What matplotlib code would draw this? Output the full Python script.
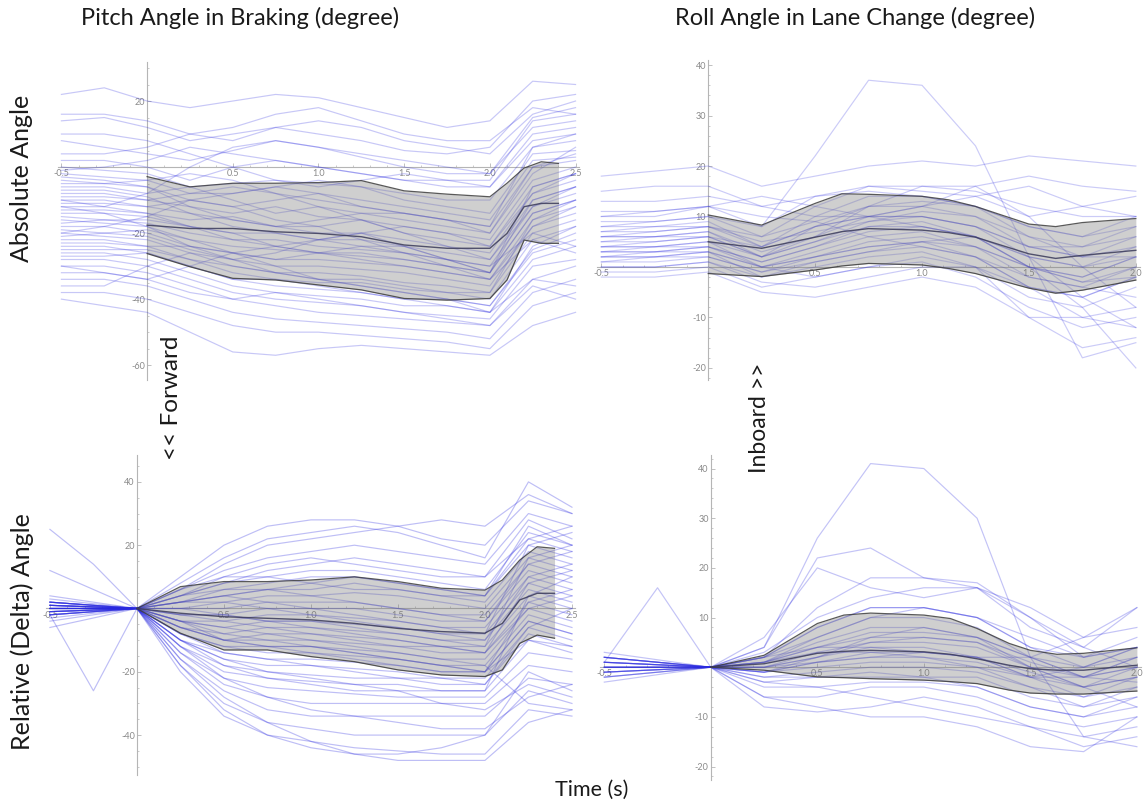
import numpy as np
import matplotlib
matplotlib.use("Agg")
import matplotlib.pyplot as plt
from matplotlib.ticker import FixedLocator, MultipleLocator

plt.rcParams['font.family'] = ['Lato', 'DejaVu Sans']

# ---------------- time bases ----------------
t_pitch = [-0.5, -0.25, 0.0, 0.25, 0.5, 0.75, 1.0, 1.25, 1.5, 1.75, 2.0, 2.25, 2.5]
t_roll = [-0.5, -0.25, 0.0, 0.25, 0.5, 0.75, 1.0, 1.25, 1.5, 1.75, 2.0]

# ---------------- pitch in braking, absolute (deg) ----------------
pitch_abs_runs = [
    [22, 24, 20, 18, 20, 22, 21, 18, 15, 12, 14, 26, 25],
    [14, 15, 12, 8, 10, 12, 10, 8, 5, 4, 6, 20, 22],
    [8, 6, 4, 2, 5, 8, 6, 3, 0, -2, -2, 15, 18],
    [2, 2, 0, -4, 0, 2, 0, -2, -4, -6, -6, 10, 12],
    [0, -1, -2, -6, -5, -4, -5, -6, -8, -10, -10, 6, 8],
    [-2, -3, -4, -8, -8, -6, -4, -6, -10, -12, -14, 4, 5],
    [-4, -5, -6, -10, -12, -10, -8, -10, -12, -14, -16, 2, 3],
    [-6, -6, -8, -6, -10, -14, -12, -14, -16, -18, -20, 0, 4],
    [-8, -8, -10, -12, -14, -12, -15, -16, -18, -20, -22, -4, 0],
    [-10, -10, -12, -14, -16, -18, -18, -16, -20, -22, -24, -6, -2],
    [-12, -12, -14, -16, -15, -18, -20, -20, -22, -24, -26, -8, -4],
    [-14, -14, -15, -18, -20, -20, -22, -24, -24, -26, -28, -10, -6],
    [-15, -16, -17, -20, -22, -22, -24, -25, -26, -28, -30, -12, -8],
    [-16, -17, -18, -22, -24, -25, -26, -27, -28, -30, -32, -14, -10],
    [-18, -18, -20, -24, -26, -28, -28, -29, -30, -32, -34, -16, -12],
    [-19, -20, -21, -25, -28, -30, -30, -31, -32, -34, -36, -18, -14],
    [-20, -21, -22, -26, -30, -32, -32, -33, -35, -36, -38, -20, -16],
    [-22, -22, -24, -28, -32, -34, -35, -35, -37, -38, -40, -22, -18],
    [-24, -24, -26, -30, -34, -36, -37, -38, -40, -40, -42, -25, -20],
    [-26, -26, -28, -32, -36, -38, -39, -40, -42, -42, -44, -28, -24],
    [-28, -28, -30, -34, -38, -40, -41, -42, -44, -45, -46, -30, -28],
    [-30, -30, -32, -36, -40, -42, -44, -45, -46, -47, -48, -34, -30],
    [-34, -34, -36, -40, -44, -46, -47, -48, -49, -50, -52, -38, -34],
    [-38, -38, -40, -44, -48, -50, -50, -51, -52, -53, -55, -42, -38],
    [-40, -42, -44, -50, -56, -57, -55, -54, -55, -56, -57, -48, -44],
    [-30, -32, -34, -30, -26, -24, -22, -20, -18, -20, -24, -8, -2],
    [-10, -12, -8, 0, 6, 8, 6, 4, 2, 0, -2, 12, 14],
    [4, 4, 6, 10, 12, 16, 18, 14, 10, 8, 8, 18, 16],
    [-20, -18, -15, -10, -8, -6, -8, -12, -14, -16, -18, 0, 2],
    [-12, -14, -18, -24, -28, -26, -22, -20, -24, -28, -32, -10, -6],
    [10, 10, 8, 4, 0, -4, -6, -4, -2, -4, -6, 8, 10],
    [-36, -36, -30, -26, -28, -32, -34, -36, -38, -40, -42, -26, -22],
    [-3, -4, -6, -12, -16, -18, -16, -14, -14, -16, -20, -2, 6],
    [-7, -7, -9, -14, -18, -20, -22, -22, -24, -28, -32, -14, -10],
    [-11, -11, -12, -10, -12, -16, -18, -22, -26, -30, -34, -18, -12],
    [-17, -16, -16, -18, -20, -24, -26, -26, -28, -30, -32, -6, -2],
    [-23, -23, -24, -24, -26, -30, -34, -36, -38, -40, -44, -24, -18],
    [-27, -27, -26, -30, -34, -34, -36, -38, -40, -42, -44, -34, -36],
    [-32, -32, -34, -38, -40, -38, -40, -42, -44, -46, -48, -36, -40],
    [-5, -5, -4, -2, -4, -8, -10, -12, -14, -16, -18, 6, 10],
    [-9, -9, -10, -8, -6, -8, -12, -16, -20, -24, -28, -12, -6],
    [-13, -13, -14, -18, -22, -24, -26, -28, -30, -32, -34, -22, -26],
    [-21, -20, -19, -22, -26, -28, -26, -24, -26, -28, -30, -20, -24],
    [16, 16, 14, 10, 8, 12, 14, 12, 8, 6, 4, 16, 20],
    [-1, 0, 2, 6, 4, 2, 0, -2, -4, -4, -4, 14, 16],
    [-25, -25, -25, -28, -30, -32, -34, -34, -36, -38, -38, -16, -10],
]

t_pitch_band = [0.0, 0.25, 0.5, 0.75, 1.0, 1.25, 1.5, 1.75, 2.0, 2.1, 2.2, 2.3, 2.4]
pitch_abs_upper = [-2.9, -6.0, -4.9, -4.9, -4.7, -4.1, -7.2, -8.2, -9.0, -4.9, -0.3, 1.6, 1.1]
pitch_abs_mean = [-17.6, -18.6, -18.6, -19.6, -20.1, -21.1, -23.6, -24.6, -24.6, -20.1, -12.0, -11.0, -11.0]
pitch_abs_lower = [-26.2, -30.2, -33.7, -34.2, -35.7, -37.2, -39.8, -40.3, -39.8, -34.2, -22.1, -23.1, -23.1]

# ---------------- pitch in braking, relative (deg) ----------------
pitch_rel_runs = [
    [1, 0.5, 0, 10, 20, 26, 28, 28, 26, 22, 20, 34, 30],
    [-1, -0.5, 0, 8, 16, 22, 24, 26, 24, 20, 16, 40, 32],
    [2, 1, 0, 6, 12, 16, 18, 20, 18, 16, 14, 30, 26],
    [0, 0, 0, 4, 10, 14, 16, 14, 12, 10, 10, 28, 22],
    [-2, -1, 0, 4, 8, 10, 12, 12, 10, 8, 6, 24, 20],
    [1, 0.5, 0, 2, 6, 8, 10, 10, 8, 6, 4, 20, 16],
    [3, 1.5, 0, 2, 4, 6, 6, 8, 6, 4, 2, 18, 14],
    [-1, -0.5, 0, 0, 2, 4, 4, 5, 4, 2, 0, 16, 12],
    [0, 0, 0, 0, 0, 2, 2, 2, 0, -2, -2, 14, 10],
    [2, 1, 0, -2, -2, 0, 0, 0, -2, -4, -4, 12, 8],
    [-2, -1, 0, -2, -4, -2, -2, -3, -4, -6, -6, 10, 6],
    [1, 0.5, 0, -4, -6, -4, -4, -5, -6, -8, -8, 8, 4],
    [0, 0, 0, -4, -8, -6, -6, -7, -8, -10, -10, 6, 2],
    [-1, -0.5, 0, -6, -10, -8, -8, -9, -10, -12, -12, 4, 0],
    [2, 1, 0, -6, -10, -10, -10, -11, -12, -14, -14, 2, -2],
    [-3, -1.5, 0, -8, -12, -12, -12, -13, -14, -16, -16, 0, -4],
    [1, 0.5, 0, -8, -12, -14, -14, -15, -16, -18, -18, -2, -6],
    [0, 0, 0, -10, -14, -16, -16, -17, -18, -20, -20, -4, -8],
    [-1, -0.5, 0, -10, -16, -18, -18, -19, -20, -22, -22, -6, -10],
    [2, 1, 0, -12, -18, -20, -21, -22, -22, -24, -24, -8, -12],
    [-2, -1, 0, -12, -20, -22, -23, -24, -24, -26, -26, -10, -14],
    [0, 0, 0, -14, -22, -25, -26, -27, -28, -28, -28, -14, -16],
    [1, 0.5, 0, -14, -24, -28, -30, -30, -30, -30, -30, -18, -20],
    [-1, -0.5, 0, -16, -26, -32, -34, -34, -34, -34, -34, -22, -24],
    [0, 0, 0, -18, -30, -36, -38, -40, -40, -40, -40, -26, -30],
    [2, 1, 0, -20, -34, -40, -42, -44, -45, -46, -46, -32, -34],
    [-2, -1, 0, -16, -28, -36, -42, -46, -48, -48, -48, -36, -32],
    [25, 14, 0, 6, 14, 20, 22, 24, 26, 28, 26, 36, 30],
    [-2, -26, 0, -6, -10, -12, -12, -14, -16, -18, -20, -4, -8],
    [12, 6, 0, 4, 8, 12, 14, 16, 14, 12, 10, 22, 18],
    [-6, -3, 0, -4, -6, -8, -10, -12, -14, -16, -18, -30, -32],
    [4, 2, 0, 2, 4, 2, 0, -2, -4, -6, -8, 20, 24],
    [-4, -2, 0, -10, -18, -22, -24, -26, -26, -26, -26, 4, 10],
    [0, 0, 0, -18, -32, -40, -44, -46, -46, -44, -40, -20, -26],
    [1, 0.5, 0, -2, -2, -4, -6, -8, -10, -12, -14, 8, 12],
    [-1, -0.5, 0, 4, 6, 6, 4, 2, 0, -2, -4, 14, 18],
    [0, 0, 0, -6, -8, -10, -12, -14, -16, -18, -20, 2, 6],
    [2, 1, 0, -8, -14, -16, -18, -20, -22, -22, -24, -6, 0],
    [-2, -1, 0, -4, -10, -12, -14, -16, -18, -20, -20, -10, -12],
    [1, 0.5, 0, 2, 2, 0, -2, -4, -6, -8, -10, 10, 14],
    [0, 0, 0, -10, -16, -20, -22, -24, -26, -30, -32, -24, -28],
    [-1, -0.5, 0, 0, -2, -4, -4, -6, -8, -10, -12, 16, 20],
    [2, 1, 0, 6, 10, 10, 8, 6, 6, 4, 4, 22, 26],
    [-2, -1, 0, -12, -22, -28, -32, -34, -36, -38, -38, -28, -24],
    [1, 0.5, 0, -4, -4, -6, -8, -10, -12, -12, -14, 0, 4],
    [0, 0, 0, 2, 4, 6, 8, 10, 8, 6, 4, 26, 20],
]

pitch_rel_upper = [0.0, 6.9, 8.5, 8.5, 9.0, 10.0, 8.5, 6.4, 5.8, 9.0, 15.3, 19.5, 19.0]
pitch_rel_mean = [0.0, -1.5, -2.6, -3.1, -3.6, -4.7, -6.3, -7.3, -7.8, -4.7, 2.7, 4.8, 4.8]
pitch_rel_lower = [0.0, -7.8, -13.1, -13.1, -15.2, -16.8, -19.4, -21.0, -21.5, -19.4, -11.0, -8.4, -9.4]

# ---------------- roll in lane change, absolute (deg) ----------------
roll_abs_runs = [
    [18, 19, 20, 16, 18, 20, 21, 20, 22, 21, 20],
    [10, 11, 12, 8, 22, 37, 36, 24, 2, -18, -15],
    [8, 9, 10, 6, 12, 16, 15, 14, 10, 12, 14],
    [6, 7, 8, 4, 10, 14, 14, 12, 6, 4, 8],
    [5, 5, 6, 2, 8, 12, 12, 10, 4, 2, 6],
    [4, 4, 5, 2, 6, 10, 10, 8, 2, 0, 4],
    [3, 3, 4, 1, 4, 8, 9, 6, 0, -2, 2],
    [2, 2, 3, 0, 3, 6, 7, 4, -2, -4, 0],
    [1, 1, 2, -1, 2, 4, 5, 2, -4, -6, -2],
    [0, 0, 1, -2, 0, 2, 3, 0, -6, -8, -4],
    [-1, -1, 0, -4, -2, 0, 1, -2, -8, -12, -10],
    [7, 8, 9, 4, 8, 10, 12, 14, 16, 12, 10],
    [10, 10, 12, 14, 12, 10, 8, 6, 2, -6, -12],
    [6, 6, 7, 3, 6, 12, 16, 16, 10, 0, -8],
    [3, 4, 5, 0, -2, 0, 2, 0, -10, -16, -14],
    [9, 9, 10, 8, 14, 15, 14, 12, 8, 6, 8],
    [2, 3, 4, 0, 2, 5, 6, 4, 0, -8, -20],
    [5, 6, 7, 2, 5, 8, 8, 6, 2, 0, 2],
    [4, 5, 6, 4, 8, 10, 10, 8, 4, 4, 6],
    [-2, -2, -1, -5, -6, -4, -2, -4, -10, -10, -8],
    [15, 16, 16, 12, 10, 10, 12, 16, 18, 16, 15],
    [11, 11, 12, 10, 9, 6, 4, 2, -2, -4, -6],
    [1, 2, 3, -2, 1, 3, 5, 6, 0, -3, 0],
    [7, 7, 8, 5, 7, 9, 10, 8, 4, 2, 4],
    [4, 4, 4, 1, 4, 7, 8, 6, 0, -3, -2],
    [6, 6, 6, 2, 5, 9, 11, 10, 6, 2, 2],
    [3, 3, 3, 0, 2, 4, 5, 4, 0, -2, 2],
    [8, 8, 8, 6, 9, 12, 13, 12, 8, 6, 10],
    [0, 0, 1, -3, -4, -2, 0, 0, -4, -6, -2],
    [13, 13, 14, 12, 14, 16, 16, 15, 12, 10, 10],
    [2, 2, 2, -1, 1, 3, 4, 2, -4, -10, -12],
]

t_roll_band = [0.0, 0.25, 0.5, 0.625, 0.75, 1.0, 1.125, 1.25, 1.5, 1.625, 1.75, 2.0]
roll_abs_upper = [10.3, 8.3, 12.6, 14.5, 14.4, 14.0, 13.3, 12.0, 8.5, 8.0, 8.8, 9.6]
roll_abs_mean = [5.0, 3.7, 5.9, 7.0, 7.6, 7.3, 6.8, 5.9, 2.6, 1.7, 2.3, 3.3]
roll_abs_lower = [-1.3, -1.9, -0.6, 0.2, 0.7, 0.4, -0.3, -1.3, -4.2, -5.2, -4.6, -2.6]

# ---------------- roll in lane change, relative (deg) ----------------
roll_rel_runs = [
    [1, 0.5, 0, 4, 26, 41, 40, 30, 2, -14, -12],
    [2, 1, 0, 4, 22, 24, 18, 17, 10, 2, 4],
    [0, 0, 0, 6, 20, 16, 14, 16, 12, 6, 8],
    [-1, -0.5, 0, 3, 10, 14, 16, 16, 8, 4, 12],
    [1, 16, 0, 2, 8, 12, 12, 10, 4, 2, 6],
    [2, 1, 0, 2, 6, 10, 10, 8, 2, 0, 4],
    [-2, -1, 0, 1, 5, 8, 8, 6, 2, -2, 2],
    [3, 1.5, 0, 1, 4, 6, 6, 5, 0, -2, 0],
    [1, 0.5, 0, 0, 3, 5, 5, 4, 0, -4, -2],
    [0, 0, 0, 0, 2, 4, 4, 2, -2, -4, 0],
    [-1, -0.5, 0, -1, 1, 2, 2, 1, -2, -6, -4],
    [2, 1, 0, -1, 0, 1, 1, 0, -4, -6, -2],
    [-2, -1, 0, -2, -1, 0, 0, -1, -4, -8, -6],
    [0, 0, 0, -2, -2, -2, -2, -2, -6, -8, -4],
    [1, 0.5, 0, -4, -4, -3, -3, -4, -8, -10, -8],
    [-1, -0.5, 0, -6, -6, -4, -4, -6, -10, -12, -10],
    [2, 1, 0, -8, -9, -8, -6, -8, -12, -16, -14],
    [-3, -1.5, 0, -6, -8, -10, -10, -12, -16, -17, -10],
    [0, 0, 0, 2, 12, 18, 18, 16, 10, 4, 0],
    [1, 0.5, 0, -3, -4, -6, -8, -10, -12, -14, -16],
    [-1, -0.5, 0, 2, 4, 4, 3, 2, 2, 6, 12],
    [2, 1, 0, 1, 3, 3, 2, 0, -2, 0, 4],
    [0, 0, 0, -1, 2, 6, 8, 6, 0, -4, -8],
    [1, 0.5, 0, 1, 4, 7, 7, 6, 2, -2, 0],
    [-1, -0.5, 0, 0, 2, 5, 6, 5, 1, -2, -3],
    [2, 1, 0, -1, 1, 3, 3, 2, -1, -4, -2],
    [0, 0, 0, 1, 6, 10, 12, 10, 4, 0, 2],
    [-2, -1, 0, -3, -2, -1, -2, -4, -8, -10, -6],
    [1, 0.5, 0, 0, 1, 2, 3, 2, -2, -2, 2],
    [0, 0, 0, 2, 8, 12, 12, 10, 6, 2, 4],
]

t_roll_rel_band = [0.0, 0.25, 0.5, 0.625, 0.75, 1.0, 1.125, 1.25, 1.4, 1.5, 1.625, 1.75, 2.0]
roll_rel_upper = [0.0, 2.4, 8.8, 10.5, 10.9, 10.5, 9.8, 7.8, 4.8, 3.4, 2.6, 2.8, 3.9]
roll_rel_mean = [0.0, 0.7, 2.8, 3.2, 3.4, 3.1, 2.6, 1.7, 0.4, -0.3, -0.6, -0.6, 0.4]
roll_rel_lower = [0.0, -0.6, -1.95, -2.1, -2.3, -2.6, -2.9, -3.3, -4.6, -5.2, -5.4, -5.4, -4.8]

# ---------------- axis ticks ----------------
pitch_xticks = [-0.5, 0.5, 1.0, 1.5, 2.0, 2.5]
roll_xticks = [-0.5, 0.5, 1.0, 1.5, 2.0]
pitch_abs_yticks = [20, -20, -40, -60]
pitch_rel_yticks = [40, 20, -20, -40]
roll_yticks = [40, 30, 20, 10, -10, -20]

RUN_COLOR = (0.16, 0.16, 0.88)
AXIS_COLOR = '#b5b5b5'
TICK_TEXT = '#8a8a8a'


def draw_panel(rect, t, runs, tb, upper, mean, lower, xlim, ylim,
               xticks, yticks, yminor, run_alpha):
    ax = fig.add_axes(rect)
    for run in runs:
        ax.plot(t, run, color=RUN_COLOR, alpha=run_alpha, lw=0.85, zorder=2)
    ax.fill_between(tb, lower, upper, color='#7a7a7a', alpha=0.36,
                    lw=0, zorder=3)
    for edge in (upper, lower):
        ax.plot(tb, edge, color='#3c3c3c', lw=0.9, alpha=0.85, zorder=4)
    ax.plot(tb, mean, color='#3a3a5a', lw=1.0, alpha=0.85, zorder=4)

    ax.set_xlim(*xlim)
    ax.set_ylim(*ylim)
    ax.set_facecolor('none')
    for side in ('top', 'right'):
        ax.spines[side].set_visible(False)
    ax.spines['left'].set_position(('data', 0))
    ax.spines['bottom'].set_position(('data', 0))
    for side in ('left', 'bottom'):
        ax.spines[side].set_color(AXIS_COLOR)
        ax.spines[side].set_linewidth(0.8)
        ax.spines[side].set_zorder(1)
    ax.xaxis.set_major_locator(FixedLocator(xticks))
    ax.yaxis.set_major_locator(FixedLocator(yticks))
    ax.yaxis.set_minor_locator(MultipleLocator(yminor))
    ax.xaxis.set_minor_locator(MultipleLocator(0.1))
    ax.set_xticklabels([f'{v:.1f}' for v in xticks])
    ax.set_yticklabels([f'{v:d}' for v in yticks])
    ax.tick_params(which='major', length=3, width=0.6, color=AXIS_COLOR,
                   labelsize=6.5, labelcolor=TICK_TEXT, pad=1.5,
                   direction='in')
    ax.tick_params(which='minor', length=1.5, width=0.5, color=AXIS_COLOR,
                   direction='in')
    return ax


fig = plt.figure(figsize=(11.44, 8.06), dpi=100)

draw_panel([0.0507, 0.5285, 0.4554, 0.3945], t_pitch, pitch_abs_runs,
           t_pitch_band, pitch_abs_upper, pitch_abs_mean, pitch_abs_lower,
           (-0.52, 2.52), (-64.5, 31.8), pitch_xticks, pitch_abs_yticks, 5,
           0.26)
draw_panel([0.5219, 0.5285, 0.4747, 0.397], t_roll, roll_abs_runs,
           t_roll_band, roll_abs_upper, roll_abs_mean, roll_abs_lower,
           (-0.52, 2.02), (-22.4, 41.0), roll_xticks, roll_yticks, 2, 0.24)
draw_panel([0.0406, 0.0385, 0.4624, 0.397], t_pitch, pitch_rel_runs,
           t_pitch_band, pitch_rel_upper, pitch_rel_mean, pitch_rel_lower,
           (-0.52, 2.52), (-52.6, 48.5), pitch_xticks, pitch_rel_yticks, 5,
           0.3)
draw_panel([0.5245, 0.0323, 0.473, 0.403], t_roll, roll_rel_runs,
           t_roll_rel_band, roll_rel_upper, roll_rel_mean, roll_rel_lower,
           (-0.52, 2.02), (-22.7, 42.7), roll_xticks, roll_yticks, 2, 0.28)

txt = dict(color='#1a1a1a', ha='center', va='center')
fig.text(0.210, 0.978, 'Pitch Angle in Braking (degree)', fontsize=17, **txt)
fig.text(0.747, 0.978, 'Roll Angle in Lane Change (degree)', fontsize=17, **txt)
fig.text(0.019, 0.779, 'Absolute Angle', fontsize=18, rotation=90, **txt)
fig.text(0.019, 0.217, 'Relative (Delta) Angle', fontsize=18, rotation=90, **txt)
fig.text(0.5175, 0.020, 'Time (s)', fontsize=15.5, **txt)
fig.text(0.150, 0.506, '<< Forward', fontsize=17.5, rotation=90, **txt)
fig.text(0.664, 0.481, 'Inboard >>', fontsize=16.5, rotation=90, **txt)

fig.savefig('out.png', dpi=100)
